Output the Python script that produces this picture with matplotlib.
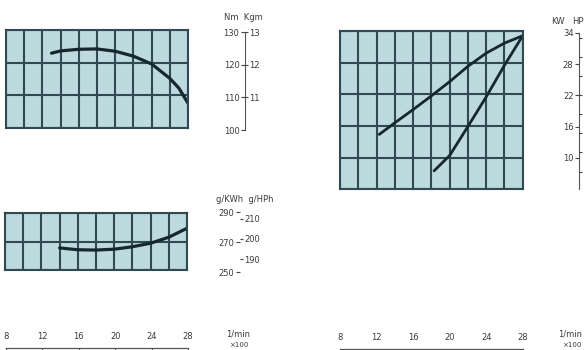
import matplotlib
matplotlib.use("Agg")
import matplotlib.pyplot as plt
import numpy as np

# ---------------- data ----------------
torque_rpm = [1300, 1400, 1600, 1800, 2000, 2200, 2400, 2600, 2700, 2800]
torque_nm = [122.9, 123.6, 124.1, 124.2, 123.5, 122.0, 119.6, 115.2, 112.2, 107.6]

bsfc_rpm = [1400, 1600, 1800, 2000, 2200, 2400, 2600, 2800]
bsfc_gkwh = [265.5, 264.2, 264.0, 264.6, 266.3, 268.8, 273.0, 279.3]

power_rpm = [1230, 1400, 1600, 1800, 2000, 2200, 2400, 2600, 2800]
power_kw = [14.4, 16.6, 19.1, 21.7, 24.4, 27.3, 29.8, 31.7, 33.1]

prop_rpm = [1830, 2000, 2200, 2400, 2600, 2800]
prop_kw = [7.5, 10.4, 15.9, 21.5, 27.5, 33.1]

rpm_ticks = [800, 1200, 1600, 2000, 2400, 2800]
rpm_labels = ["8", "12", "16", "20", "24", "28"]

nm_ticks = [100, 110, 120, 130]
kgm_ticks = [11, 12, 13]
gkwh_ticks = [250, 270, 290]
ghph_ticks = [190, 200, 210]
kw_ticks = [10, 16, 22, 28, 34]
hp_ticks = [10, 15, 20, 25, 30, 35, 40, 45]

# ---------------- style ----------------
W, H = 586, 350
FILL = "#bddadf"
GRID = "#2f4a52"
CURVE = "#17272e"
TXT = "#3a3a3a"
FS = 6

fig = plt.figure(figsize=(W / 100, H / 100), dpi=100)
fig.patch.set_facecolor("white")


def px_axes(x0, y0, x1, y1):
    return fig.add_axes([x0 / W, 1 - y1 / H, (x1 - x0) / W, (y1 - y0) / H])


def grid_panel(box, ylim, yticks):
    ax = px_axes(*box)
    ax.set_facecolor(FILL)
    ax.set_xlim(800, 2800)
    ax.set_ylim(*ylim)
    ax.set_xticks(np.arange(800, 2801, 200))
    ax.set_yticks(yticks)
    ax.grid(True, color=GRID, lw=1.5)
    ax.tick_params(length=0, labelbottom=False, labelleft=False)
    for s in ax.spines.values():
        s.set_color(GRID)
        s.set_linewidth(1.5)
    return ax


# torque panel
ax_t = grid_panel((6, 30, 188, 128), (100, 130), nm_ticks)
ax_t.plot(torque_rpm, torque_nm, color=CURVE, lw=2.3, solid_capstyle="round")

# bsfc panel
ax_b = grid_panel((5, 213, 187, 270), (250, 290), gkwh_ticks)
ax_b.plot(bsfc_rpm, bsfc_gkwh, color=CURVE, lw=2.3, solid_capstyle="round")

# power panel
ax_p = grid_panel((340, 31, 522.7, 189.3), (4, 34), [4, 10, 16, 22, 28, 34])
ax_p.plot(power_rpm, power_kw, color=CURVE, lw=2.0, solid_capstyle="round")
ax_p.plot(prop_rpm, prop_kw, color=CURVE, lw=2.0, solid_capstyle="round")


def scale_axis(x, y0, y1, ylim, lticks, rticks, rpos, show_spine=True, rlabels=True):
    a = px_axes(x, y0, x + 0.01, y1)
    a.set_ylim(*ylim)
    a.patch.set_alpha(0)
    a.set_xticks([])
    for k in ("top", "bottom", "right"):
        a.spines[k].set_visible(False)
    a.spines["left"].set_visible(show_spine)
    a.spines["left"].set_color("#555555")
    a.spines["left"].set_linewidth(0.8)
    a.set_yticks(lticks)
    a.set_yticklabels([str(v) for v in lticks])
    a.tick_params(axis="y", left=True, length=3, width=0.8, color="#444444",
                  labelsize=FS, labelcolor=TXT, pad=1)
    b = a.twinx()
    b.set_ylim(*ylim)
    for s in b.spines.values():
        s.set_visible(False)
    b.set_yticks(rpos)
    b.set_yticklabels([str(v) for v in rticks] if rlabels else [""] * len(rticks))
    b.tick_params(axis="y", right=True, length=2, width=0.8, color="#444444",
                  labelsize=FS, labelcolor=TXT, pad=1)
    return a


scale_axis(245, 32, 130, (100, 130), nm_ticks, kgm_ticks,
           [k * 10 for k in kgm_ticks])
scale_axis(240, 212, 272, (250, 290), gkwh_ticks, ghph_ticks,
           [g * 1.36 for g in ghph_ticks], show_spine=False)
scale_axis(579, 33, 189, (4, 34), kw_ticks, hp_ticks,
           [h * 0.7355 for h in hp_ticks], rlabels=False)

fig.text(243 / W, 1 - 17 / H, "Nm  Kgm", fontsize=FS, color=TXT, ha="center", va="center")
fig.text(245 / W, 1 - 199 / H, "g/KWh  g/HPh", fontsize=FS, color=TXT, ha="center", va="center")
fig.text(558 / W, 1 - 21 / H, "KW", fontsize=FS, color=TXT, ha="center", va="center")
fig.text(572 / W, 1 - 21 / H, "HP", fontsize=FS, color=TXT, ha="left", va="center")


def rpm_axis(x0, x1, y):
    a = px_axes(x0, y, x1, y + 0.01)
    a.patch.set_alpha(0)
    a.set_xlim(800, 2800)
    a.set_yticks([])
    for k in ("left", "right", "bottom"):
        a.spines[k].set_visible(False)
    a.spines["top"].set_color("#555555")
    a.spines["top"].set_linewidth(0.9)
    a.xaxis.tick_top()
    a.set_xticks(rpm_ticks)
    a.set_xticklabels(rpm_labels)
    a.tick_params(axis="x", direction="in", length=4, width=0.8, color="#555555",
                  labelsize=FS, labelcolor=TXT, pad=5)
    return a


rpm_axis(6, 188, 348)
rpm_axis(340, 522.7, 349)
fig.text(238 / W, 1 - 334 / H, "1/min", fontsize=FS, color=TXT, ha="center", va="center")
fig.text(239 / W, 1 - 345 / H, "×100", fontsize=5, color=TXT, ha="center", va="center")
fig.text(570 / W, 1 - 334 / H, "1/min", fontsize=FS, color=TXT, ha="center", va="center")
fig.text(572 / W, 1 - 345 / H, "×100", fontsize=5, color=TXT, ha="center", va="center")

fig.savefig("out.png", dpi=100, facecolor="white")
